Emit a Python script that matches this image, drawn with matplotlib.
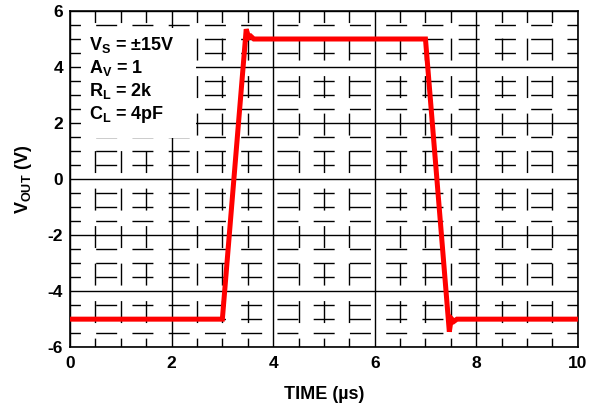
import matplotlib
matplotlib.use("Agg")
import matplotlib.pyplot as plt
from matplotlib.ticker import MultipleLocator
from matplotlib.patches import Rectangle

plt.rcParams['font.family'] = ['Liberation Sans', 'DejaVu Sans']
plt.rcParams['font.weight'] = 'bold'
plt.rcParams['mathtext.fontset'] = 'custom'
plt.rcParams['mathtext.rm'] = 'Liberation Sans:bold'
plt.rcParams['mathtext.it'] = 'Liberation Sans:bold'
plt.rcParams['mathtext.bf'] = 'Liberation Sans:bold'
plt.rcParams['mathtext.default'] = 'rm'
plt.rcParams['axes.unicode_minus'] = False
plt.rcParams['lines.scale_dashes'] = False

# large-signal pulse response (us, V)
time_us = [0, 3.0, 3.47, 3.52, 3.56, 3.62, 7.0, 7.47, 7.49, 7.52, 7.56, 7.62, 10]
vout = [-5, -5, 5.35, 5.05, 5.1, 5.0, 5.0, -5.45, -5.2, -5.0, -5.08, -5.0, -5]

x_ticks = [0, 2, 4, 6, 8, 10]
y_ticks = [-6, -4, -2, 0, 2, 4, 6]
conditions = [r"$V_S$ = ±15V", r"$A_V$ = 1", r"$R_L$ = 2k", r"$C_L$ = 4pF"]

fig = plt.figure(figsize=(6, 4.07), dpi=100)
ax = fig.add_axes([0.1167, 0.147, 0.8463, 0.826])

ax.set_xlim(0, 10)
ax.set_ylim(-6, 6)
ax.set_xticks(x_ticks)
ax.set_yticks(y_ticks)
ax.xaxis.set_minor_locator(MultipleLocator(0.5))
ax.yaxis.set_minor_locator(MultipleLocator(0.5))
ax.tick_params(which='both', length=0, labelsize=12.5)
ax.tick_params(axis='x', pad=6)
ax.tick_params(axis='y', pad=5)

ax.set_axisbelow(True)
ax.grid(which='major', color='black', lw=1.0)
ax.xaxis.grid(which='minor', color='black', lw=1.0, ls=(9.4, (15.8, 11.2)))
ax.yaxis.grid(which='minor', color='black', lw=1.0, ls=(7.6, (15.1, 11.0)))

for s in ax.spines.values():
    s.set_linewidth(1.2)

# white box behind the test conditions
ax.add_patch(Rectangle((0.022, 0.622), 0.226, 0.327, transform=ax.transAxes,
                       facecolor='white', edgecolor='none', zorder=1))
for i, txt in enumerate(conditions):
    ax.text(0.037, 0.9 - i * 0.069, txt, transform=ax.transAxes, fontsize=13,
            fontweight='bold', va='center', ha='left', zorder=2)

ax.plot(time_us, vout, color='#ff0000', lw=3.6, solid_joinstyle='miter', zorder=3)

ax.set_xlabel("TIME (µs)", fontsize=13, fontweight='bold', labelpad=11)
ax.set_ylabel(r"$V_{OUT}$ (V)", fontsize=13, fontweight='bold', labelpad=10)

fig.savefig("out.png", dpi=100)
